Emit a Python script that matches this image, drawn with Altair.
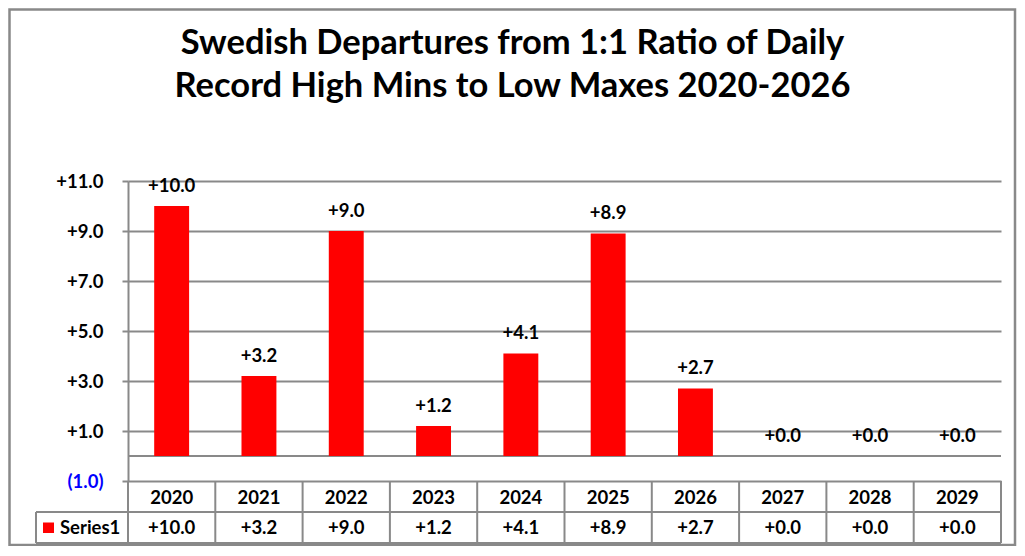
import altair as alt
import pandas as pd

YEARS = ["2020", "2021", "2022", "2023", "2024", "2025", "2026", "2027", "2028", "2029"]
VALUES = [10.0, 3.2, 9.0, 1.2, 4.1, 8.9, 2.7, 0.0, 0.0, 0.0]
Y_TICKS = [-1, 1, 3, 5, 7, 9, 11]
TITLE_LINES = ["Swedish Departures from 1:1 Ratio of Daily",
               "Record High Mins to Low Maxes 2020-2026"]
SERIES_NAME = "Series1"

FONT = "Lato"
GRAY = "#898989"
RED = "#FF0000"
W, H = 873, 300
PAD = {"left": 120, "top": 173, "right": 16, "bottom": 65}

df = pd.DataFrame({"Year": YEARS, "Value": VALUES,
                   "Label": [f"+{v:.1f}" for v in VALUES]})
edges = pd.DataFrame({"edge": list(range(len(YEARS) + 1))})
one = pd.DataFrame({"a": [0]})

yscale = alt.Scale(domain=[-1, 11], nice=False, zero=False)
yaxis = alt.Axis(
    title=None, values=Y_TICKS,
    labelExpr="datum.value < 0 ? '(' + format(-datum.value, '.1f') + ')' : '+' + format(datum.value, '.1f')",
    labelFont=FONT, labelFontSize=18.5, labelFontWeight="bold",
    labelColor={"condition": {"test": "datum.value < 0", "value": "#0000FF"}, "value": "#000000"},
    labelPadding=19, tickSize=6, tickColor=GRAY, tickWidth=2,
    domainColor=GRAY, domainWidth=2, grid=True, gridColor=GRAY, gridWidth=2,
)
xaxis = alt.Axis(
    title=None, orient="bottom", domain=False, ticks=False, labelAngle=0, grid=False,
    labelFont=FONT, labelFontSize=18.5, labelFontWeight="bold", labelColor="#000000",
    labelPadding=16, labelBaseline="middle",
)
xscale = alt.Scale(paddingInner=0.6, paddingOuter=0.3)


def X():
    return alt.X("Year:N", sort=YEARS, scale=xscale, axis=xaxis)


def Y():
    return alt.Y("Value:Q", scale=yscale, axis=yaxis)


txt = dict(font=FONT, fontSize=18.5, fontWeight="bold", color="#000000")

bars = alt.Chart(df).mark_bar(color=RED).encode(x=X(), y=Y(), y2=alt.datum(0))

zero_rule = alt.Chart(one).mark_rule(color=GRAY, strokeWidth=2).encode(
    y=alt.YDatum(0, type="quantitative", scale=yscale, axis=yaxis))

bar_labels = alt.Chart(df).mark_text(baseline="middle", dy=-20.5, **txt).encode(
    x=X(), y=Y(), text="Label:N")

table_values = alt.Chart(df).mark_text(baseline="middle", **txt).encode(
    x=X(), y=alt.value(346.5), text="Label:N")

inner = alt.layer(zero_rule, bars, bar_labels, table_values)

separators = alt.Chart(edges).mark_rule(color=GRAY, strokeWidth=2).encode(
    x=alt.X("edge:Q", scale=alt.Scale(domain=[0, len(YEARS)], nice=False, zero=False), axis=None),
    y=alt.value(300), y2=alt.value(362))

hline1 = alt.Chart(one).mark_rule(color=GRAY, strokeWidth=2).encode(
    x=alt.value(-92), x2=alt.value(W), y=alt.value(331))
hline2 = alt.Chart(one).mark_rule(color=GRAY, strokeWidth=2).encode(
    x=alt.value(-92), x2=alt.value(W), y=alt.value(362))
vline = alt.Chart(one).mark_rule(color=GRAY, strokeWidth=2).encode(
    x=alt.value(-92), y=alt.value(331), y2=alt.value(362))

key = alt.Chart(one).mark_rect(color=RED).encode(
    x=alt.value(-85), x2=alt.value(-74), y=alt.value(341.5), y2=alt.value(352))
key_text = alt.Chart(one).mark_text(align="left", baseline="middle", text=SERIES_NAME, **txt).encode(
    x=alt.value(-68), y=alt.value(346.5))

title1 = alt.Chart(one).mark_text(align="center", baseline="middle", text=TITLE_LINES[0],
                                  font=FONT, fontSize=34.5, fontWeight="bold", color="#000000").encode(
    x=alt.value(384.5), y=alt.value(-137))
title2 = alt.Chart(one).mark_text(align="center", baseline="middle", text=TITLE_LINES[1],
                                  font=FONT, fontSize=34.5, fontWeight="bold", color="#000000").encode(
    x=alt.value(384.5), y=alt.value(-94))

border = alt.Chart(one).mark_rect(filled=False, stroke=GRAY, strokeWidth=2.5).encode(
    x=alt.value(-118.5), x2=alt.value(887), y=alt.value(-171.5), y2=alt.value(364))

chart = alt.layer(
    border, inner, separators, hline1, hline2, vline, key, key_text, title1, title2
).resolve_scale(x="independent").properties(
    width=W, height=H, autosize=alt.AutoSizeParams(type="none"), padding=PAD,
    background="#FFFFFF",
).configure_view(stroke=None)

chart.save("out.html", embed_options={"renderer": "svg", "actions": False})
